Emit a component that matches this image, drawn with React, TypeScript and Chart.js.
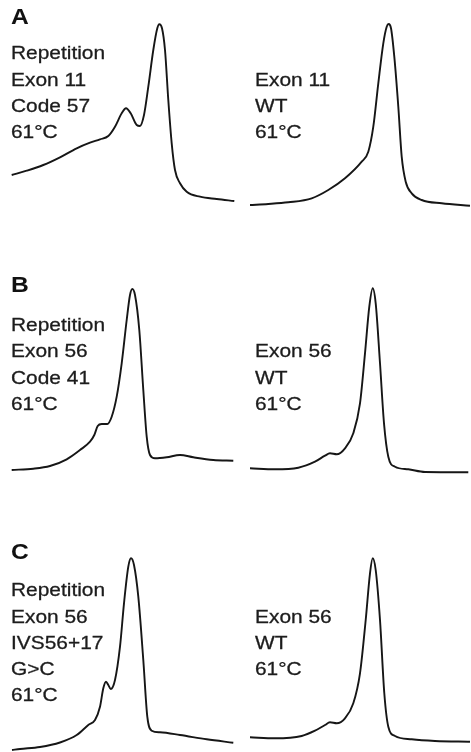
import React, { useEffect, useRef } from "react";
import { Chart, registerables } from "chart.js";

Chart.register(...registerables);

// Panel A — mutant (repetition) and wild-type traces (retention units vs. signal)
const aMutTime = [3.7, 18.7, 35.3, 52, 68.7, 82, 92, 100.3, 107, 113.7, 118, 122.7, 128.7, 132, 136, 140.3, 145.3, 149.3, 151.3, 154, 157, 160.3, 163.7, 167, 172, 178.7, 192, 208.7, 226.3];
const aMutSignal = [40, 44.3, 50, 57.7, 66.7, 72.3, 75.7, 79, 88.3, 101.7, 106.7, 101.7, 90, 89, 100, 128.3, 165, 186.7, 190.7, 186.7, 165, 115, 71.7, 45, 31.7, 23.3, 18.3, 16, 14];
const aWtTime = [4, 22.3, 42.3, 65.7, 82.3, 99, 115.7, 122.3, 127.3, 132.3, 137.3, 140.7, 142.7, 145, 148.3, 152.3, 155.7, 159.7, 165.7, 175.7, 195.7, 224];
const aWtSignal = [10, 11, 12.7, 16.7, 25, 36.7, 53.3, 63.3, 88.3, 131.7, 171.7, 188.3, 191, 186.7, 158.3, 108.3, 58.3, 33.3, 21.7, 15, 11.7, 9.3];

// Panel B
const bMutTime = [3.7, 25.3, 42, 58.7, 72, 82, 86.3, 89.7, 93.7, 99.3, 103.7, 108.7, 113.7, 118.7, 122, 124.3, 127, 131.3, 135.3, 138.7, 142, 147, 158.7, 172, 185.3, 205.3, 225.3];
const bMutSignal = [10, 11.3, 14, 20.7, 30, 38.3, 45, 54, 56, 56, 63.3, 83.3, 116.7, 160, 185, 191, 185, 150, 90, 43.3, 25, 21.7, 22.7, 25, 22.7, 20, 19.3];
const bWtTime = [4, 29, 52.3, 69, 79, 84, 90.7, 99, 107.3, 114, 119, 123.3, 126.7, 129.7, 134, 138, 142.3, 149, 162.3, 179, 222.3];
const bWtSignal = [11.7, 10.7, 12.3, 18.3, 24.3, 26.7, 25.7, 31.7, 46.7, 76.7, 126.7, 173.3, 191.7, 176.7, 116.7, 56.7, 23.3, 13.3, 10.7, 8, 7.7];

// Panel C
const cMutTime = [4, 12, 32, 52, 68.7, 80.3, 87, 92, 95.3, 98, 100.3, 102.7, 107, 112, 116, 120.3, 123, 126, 130.3, 135.3, 139.3, 143.7, 152, 172, 198.7, 225.3];
const cMutSignal = [2, 3, 5, 9.5, 17, 27, 32, 45.3, 63.7, 70.3, 67, 63, 72, 105.3, 148.7, 185.3, 193.7, 187, 155.3, 92, 35.3, 21.3, 19.7, 17, 12.7, 9.3];
const cWtTime = [4, 29, 55.7, 69, 79, 84, 90.7, 99, 107.3, 114, 119.7, 124, 126.7, 129.7, 134, 138.3, 142.3, 149, 165.7, 189, 224];
const cWtSignal = [14.7, 13.7, 16, 21.3, 27, 29.7, 28.7, 33.7, 48.7, 78.7, 132, 178.7, 193.7, 182, 132, 58.7, 25.3, 16, 12.7, 11, 10.3];

// Labels
const panelLetters = ["A", "B", "C"];
const aMutLabel = ["Repetition", "Exon 11", "Code 57", "61°C"];
const aWtLabel = ["Exon 11", "WT", "61°C"];
const bMutLabel = ["Repetition", "Exon 56", "Code 41", "61°C"];
const bWtLabel = ["Exon 56", "WT", "61°C"];
const cMutLabel = ["Repetition", "Exon 56", "IVS56+17", "G>C", "61°C"];
const cWtLabel = ["Exon 56", "WT", "61°C"];

const LINE_COLOR = "#161616";
const TEXT_COLOR = "#1c1c1c";
const FONT = "'Liberation Sans', Arial, Helvetica, sans-serif";

type TraceProps = { time: number[]; signal: number[]; left: number; top: number; width: number; height: number };

function Trace({ time, signal, left, top, width, height }: TraceProps) {
  const ref = useRef<HTMLCanvasElement | null>(null);
  useEffect(() => {
    if (!ref.current) return;
    const pts = time.map((t, i) => ({ x: t, y: signal[i] }));
    const chart = new Chart(ref.current, {
      type: "line",
      data: {
        datasets: [
          {
            data: pts,
            borderColor: LINE_COLOR,
            borderWidth: 1.9,
            pointRadius: 0,
            fill: false,
            cubicInterpolationMode: "monotone",
            clip: false as any,
          },
        ],
      },
      options: {
        animation: false,
        responsive: false,
        maintainAspectRatio: false,
        devicePixelRatio: 1,
        layout: { padding: 0 },
        plugins: { legend: { display: false }, tooltip: { enabled: false } },
        events: [],
        scales: {
          x: { type: "linear", min: 0, max: width, display: false },
          y: { type: "linear", min: 0, max: height, display: false },
        },
      },
    });
    return () => chart.destroy();
  }, []);
  return (
    <canvas
      ref={ref}
      width={width}
      height={height}
      style={{ position: "absolute", left, top, width, height }}
    />
  );
}

const LINE_H = 26.3;
const FS = 19;

function TextBlock({ lines, left, firstBaseline }: { lines: string[]; left: number; firstBaseline: number }) {
  const offs = (LINE_H - 1.117 * FS) / 2 + 0.905 * FS;
  return (
    <div
      style={{
        position: "absolute",
        left,
        top: firstBaseline - offs,
        fontFamily: FONT,
        fontSize: FS,
        lineHeight: LINE_H + "px",
        color: TEXT_COLOR,
        whiteSpace: "nowrap",
        transform: "scaleX(1.1)",
        transformOrigin: "left top",
        WebkitTextStroke: "0.3px " + TEXT_COLOR,
      }}
    >
      {lines.map((l, i) => (
        <div key={i}>{l}</div>
      ))}
    </div>
  );
}

function Letter({ text, baseline }: { text: string; baseline: number }) {
  const fs = 22;
  const offs = (fs - 1.117 * fs) / 2 + 0.905 * fs;
  return (
    <div
      style={{
        position: "absolute",
        left: 11,
        top: baseline - offs,
        fontFamily: FONT,
        fontWeight: "bold",
        fontSize: fs,
        lineHeight: fs + "px",
        color: "#111",
        transform: "scaleX(1.12)",
        transformOrigin: "left",
      }}
    >
      {text}
    </div>
  );
}

const rows = [
  { top: 10, height: 205, letterBase: 25, textBase: 60, mut: [aMutTime, aMutSignal], wt: [aWtTime, aWtSignal], mutLabel: aMutLabel, wtLabel: aWtLabel },
  { top: 280, height: 200, letterBase: 293, textBase: 331.7, mut: [bMutTime, bMutSignal], wt: [bWtTime, bWtSignal], mutLabel: bMutLabel, wtLabel: bWtLabel },
  { top: 550, height: 202, letterBase: 560, textBase: 597, mut: [cMutTime, cMutSignal], wt: [cWtTime, cWtSignal], mutLabel: cMutLabel, wtLabel: cWtLabel },
];

export default function App() {
  return (
    <div style={{ position: "absolute", left: 0, top: 0, width: 471, height: 752, background: "#fff", overflow: "hidden" }}>
      {rows.map((r, i) => (
        <React.Fragment key={i}>
          <Trace time={r.mut[0]} signal={r.mut[1]} left={8} top={r.top} width={230} height={r.height} />
          <Trace time={r.wt[0]} signal={r.wt[1]} left={246} top={r.top} width={225} height={r.height} />
          <Letter text={panelLetters[i]} baseline={r.letterBase} />
          <TextBlock lines={r.mutLabel} left={11} firstBaseline={r.textBase} />
          <TextBlock lines={r.wtLabel} left={255} firstBaseline={r.textBase + LINE_H} />
        </React.Fragment>
      ))}
    </div>
  );
}
